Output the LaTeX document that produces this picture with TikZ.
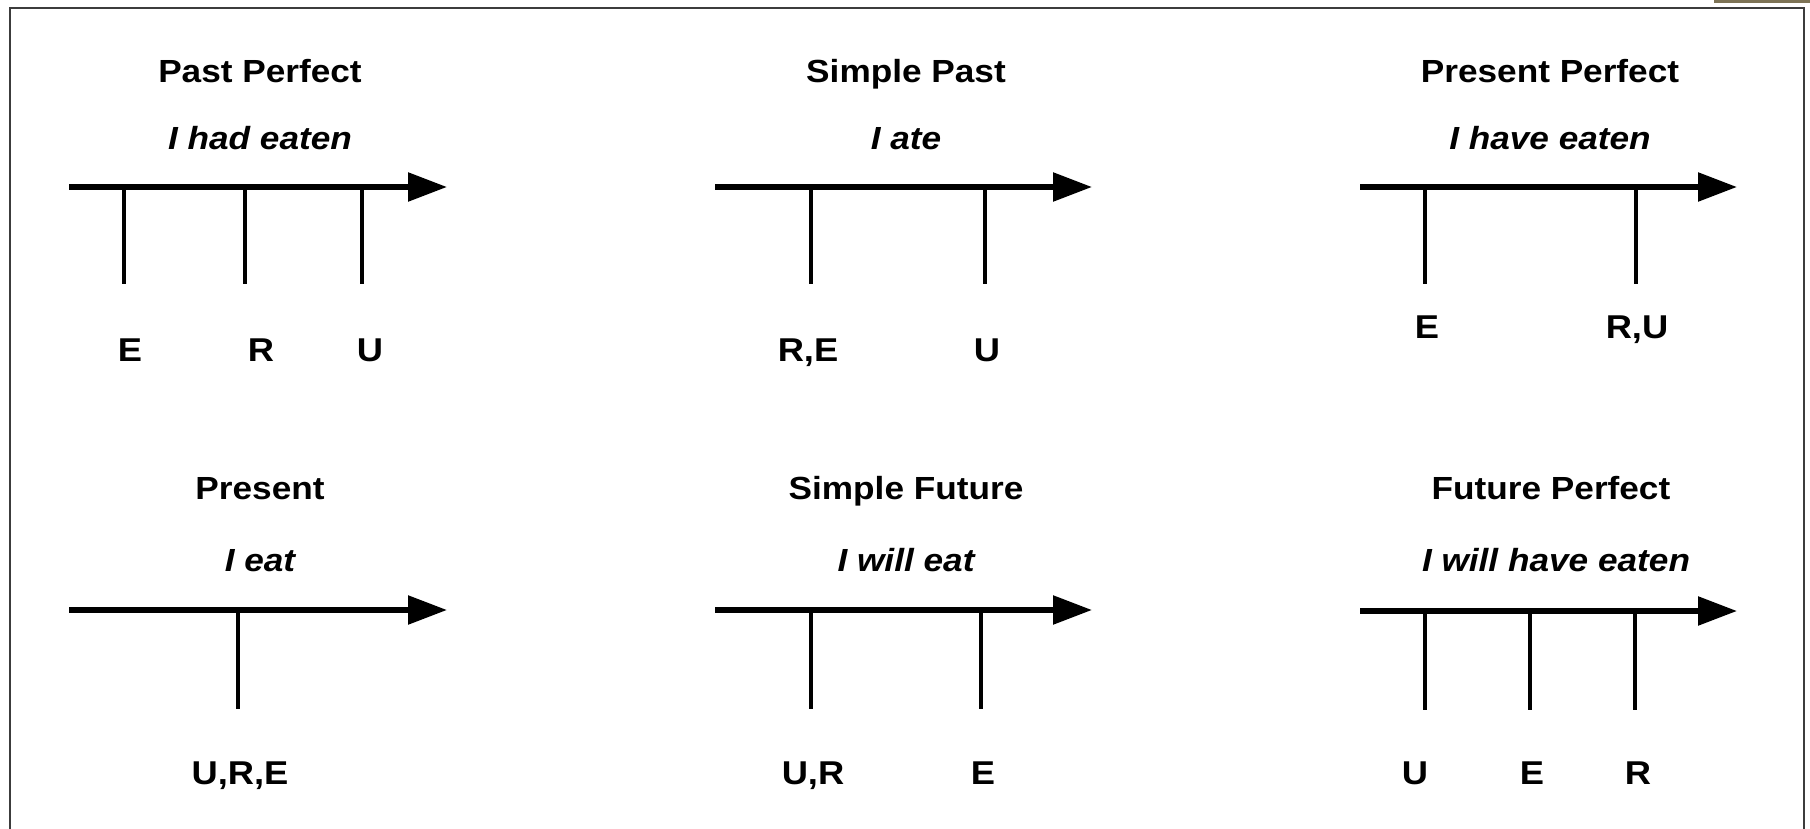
\documentclass[tikz,border=0pt]{standalone}
\usepackage{fontspec}
\setmainfont{Liberation Sans}[FakeStretch=1.1]
\usetikzlibrary{arrows.meta}
\definecolor{frameline}{RGB}{60,60,60}
\definecolor{olive}{RGB}{125,115,85}
\tikzset{
  timeaxis/.style={line width=5.5pt, -{Triangle[length=39pt,width=28pt]}},
  tick/.style={line width=4.5pt},
  tensename/.style={font=\fontsize{32}{38}\selectfont\bfseries, inner sep=0pt, anchor=base},
  example/.style={font=\fontsize{32}{38}\selectfont\bfseries\itshape, inner sep=0pt, anchor=base},
  pointlabel/.style={font=\fontsize{33}{38}\selectfont\bfseries, inner sep=0pt, anchor=base},
}
\begin{document}
\begin{tikzpicture}[x=1pt,y=-1pt]
\useasboundingbox (0,0) rectangle (1810,829);
\fill[white] (0,0) rectangle (1810,829);
% outer frame (open at the bottom) and the small bar above its corner
\draw[frameline, line width=2pt] (9.5,829) -- (9.5,8) -- (1803.5,8) -- (1803.5,829);
\fill[olive] (1714,0) rectangle (1810,3);

% ---------- Past Perfect ----------
\node[tensename] (pp-t) at (260,83) {Past Perfect};
\node[example] (pp-e) at (260,150) {I had eaten};
\coordinate (pp-a) at (69,187);
\coordinate (pp-b) at (447,187);
\draw[timeaxis] (pp-a) -- (pp-b);
\coordinate (pp-1) at (124,187); \coordinate (pp-1b) at (124,284);
\coordinate (pp-2) at (245,187); \coordinate (pp-2b) at (245,284);
\coordinate (pp-3) at (362,187); \coordinate (pp-3b) at (362,284);
\draw[tick] (pp-1) -- (pp-1b);
\draw[tick] (pp-2) -- (pp-2b);
\draw[tick] (pp-3) -- (pp-3b);
\node[pointlabel] (pp-E) at (130,361) {E};
\node[pointlabel] (pp-R) at (261,361) {R};
\node[pointlabel] (pp-U) at (370,361) {U};

% ---------- Simple Past ----------
\node[tensename] (sp-t) at (906,83) {Simple Past};
\node[example] (sp-e) at (906,150) {I ate};
\coordinate (sp-a) at (715,187);
\coordinate (sp-b) at (1092,187);
\draw[timeaxis] (sp-a) -- (sp-b);
\coordinate (sp-1) at (811,187); \coordinate (sp-1b) at (811,284);
\coordinate (sp-2) at (985,187); \coordinate (sp-2b) at (985,284);
\draw[tick] (sp-1) -- (sp-1b);
\draw[tick] (sp-2) -- (sp-2b);
\node[pointlabel] (sp-RE) at (808,361) {R,E};
\node[pointlabel] (sp-U) at (987,361) {U};

% ---------- Present Perfect ----------
\node[tensename] (prp-t) at (1550,83) {Present Perfect};
\node[example] (prp-e) at (1550,150) {I have eaten};
\coordinate (prp-a) at (1360,187);
\coordinate (prp-b) at (1737,187);
\draw[timeaxis] (prp-a) -- (prp-b);
\coordinate (prp-1) at (1425,187); \coordinate (prp-1b) at (1425,284);
\coordinate (prp-2) at (1636,187); \coordinate (prp-2b) at (1636,284);
\draw[tick] (prp-1) -- (prp-1b);
\draw[tick] (prp-2) -- (prp-2b);
\node[pointlabel] (prp-E) at (1427,338) {E};
\node[pointlabel] (prp-RU) at (1637,338) {R,U};

% ---------- Present ----------
\node[tensename] (pr-t) at (260,499) {Present};
\node[example] (pr-e) at (260,571) {I eat};
\coordinate (pr-a) at (69,610);
\coordinate (pr-b) at (447,610);
\draw[timeaxis] (pr-a) -- (pr-b);
\coordinate (pr-1) at (238,610); \coordinate (pr-1b) at (238,709);
\draw[tick] (pr-1) -- (pr-1b);
\node[pointlabel] (pr-URE) at (240,784) {U,R,E};

% ---------- Simple Future ----------
\node[tensename] (sf-t) at (906,499) {Simple Future};
\node[example] (sf-e) at (906,571) {I will eat};
\coordinate (sf-a) at (715,610);
\coordinate (sf-b) at (1092,610);
\draw[timeaxis] (sf-a) -- (sf-b);
\coordinate (sf-1) at (811,610); \coordinate (sf-1b) at (811,709);
\coordinate (sf-2) at (981,610); \coordinate (sf-2b) at (981,709);
\draw[tick] (sf-1) -- (sf-1b);
\draw[tick] (sf-2) -- (sf-2b);
\node[pointlabel] (sf-UR) at (813,784) {U,R};
\node[pointlabel] (sf-E) at (983,784) {E};

% ---------- Future Perfect ----------
\node[tensename] (fp-t) at (1551,499) {Future Perfect};
\node[example] (fp-e) at (1556,571) {I will have eaten};
\coordinate (fp-a) at (1360,611);
\coordinate (fp-b) at (1737,611);
\draw[timeaxis] (fp-a) -- (fp-b);
\coordinate (fp-1) at (1425,611); \coordinate (fp-1b) at (1425,710);
\coordinate (fp-2) at (1530,611); \coordinate (fp-2b) at (1530,710);
\coordinate (fp-3) at (1635,611); \coordinate (fp-3b) at (1635,710);
\draw[tick] (fp-1) -- (fp-1b);
\draw[tick] (fp-2) -- (fp-2b);
\draw[tick] (fp-3) -- (fp-3b);
\node[pointlabel] (fp-U) at (1415,784) {U};
\node[pointlabel] (fp-E) at (1532,784) {E};
\node[pointlabel] (fp-R) at (1638,784) {R};
\end{tikzpicture}
\end{document}
